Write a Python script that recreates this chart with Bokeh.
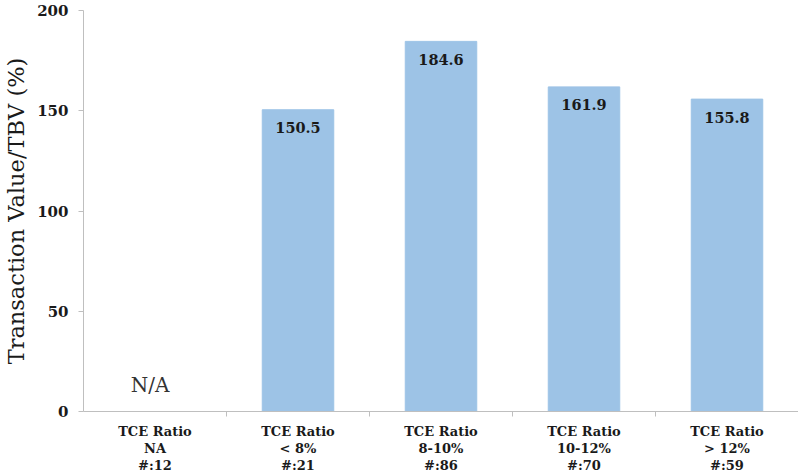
from bokeh.plotting import figure
from bokeh.models import FixedTicker, ColumnDataSource, Range1d
from bokeh.core.properties import value
from bokeh.embed import file_html
from bokeh.resources import INLINE

categories = [
    "TCE Ratio\nNA\n#:12",
    "TCE Ratio\n< 8%\n#:21",
    "TCE Ratio\n8-10%\n#:86",
    "TCE Ratio\n10-12%\n#:70",
    "TCE Ratio\n> 12%\n#:59",
]
values = [None, 150.5, 184.6, 161.9, 155.8]
na_text = ["N/A", "", "", "", ""]
y_ticks = [0, 50, 100, 150, 200]

FONT = "DejaVu Serif"
BAR = "#9DC3E6"
AXIS = "#BFBFBF"

centers = [i + 0.5 for i in range(len(categories))]
bx = [c for c, v in zip(centers, values) if v is not None]
bv = [v for v in values if v is not None]
bl = ["%.1f" % v for v in bv]
src = ColumnDataSource(dict(x=bx, top=bv, label=bl))

na_x = [c for c, t in zip(centers, na_text) if t]
na_t = [t for t in na_text if t]
na_src = ColumnDataSource(dict(x=na_x, y=[0] * len(na_x), t=na_t))

p = figure(width=798, height=476, x_range=Range1d(0, len(categories)),
           y_range=Range1d(y_ticks[0], y_ticks[-1]),
           output_backend="svg", toolbar_location=None,
           min_border_left=81, min_border_right=0, min_border_top=10,
           min_border_bottom=65)

p.vbar(x="x", top="top", width=0.5, bottom=0, source=src,
       fill_color=BAR, line_color=BAR)
p.text(x="x", y="top", text="label", source=src, text_align="center",
       text_baseline="middle", y_offset=18, text_font=value(FONT),
       text_font_style="bold", text_font_size="14.5px", text_color="#1a1a1a")
p.text(x="x", y="y", text="t", source=na_src, text_align="center",
       text_baseline="middle", y_offset=-27, x_offset=-5, text_font=value(FONT),
       text_font_size="20px", text_color="#333333")

p.xgrid.visible = False
p.ygrid.visible = False
p.outline_line_color = None

xa = p.xaxis[0]
xa.ticker = FixedTicker(ticks=centers, minor_ticks=list(range(1, len(categories))))
xa.major_label_overrides = {c: lab for c, lab in zip(centers, categories)}
xa.major_tick_line_color = None
xa.major_tick_in = 0
xa.major_tick_out = 0
xa.minor_tick_line_color = AXIS
xa.minor_tick_in = 0
xa.minor_tick_out = 5
xa.axis_line_color = AXIS
xa.major_label_standoff = 7
xa.major_label_text_font = FONT
xa.major_label_text_font_style = "bold"
xa.major_label_text_font_size = "13px"
xa.major_label_text_line_height = 1.15
xa.major_label_text_color = "#1a1a1a"

ya = p.yaxis[0]
ya.ticker = FixedTicker(ticks=y_ticks)
ya.axis_line_color = AXIS
ya.major_tick_line_color = AXIS
ya.major_tick_in = 0
ya.major_tick_out = 5
ya.minor_tick_line_color = None
ya.major_label_standoff = 10
ya.major_label_text_font = FONT
ya.major_label_text_font_style = "bold"
ya.major_label_text_font_size = "15px"
ya.major_label_text_color = "#1a1a1a"
ya.axis_label = "Transaction Value/TBV (%)"
ya.axis_label_text_font = FONT
ya.axis_label_text_font_style = "normal"
ya.axis_label_text_font_size = "22.5px"
ya.axis_label_text_color = "#1a1a1a"
ya.axis_label_standoff = 5

open("out.html", "w").write(file_html(p, INLINE))
